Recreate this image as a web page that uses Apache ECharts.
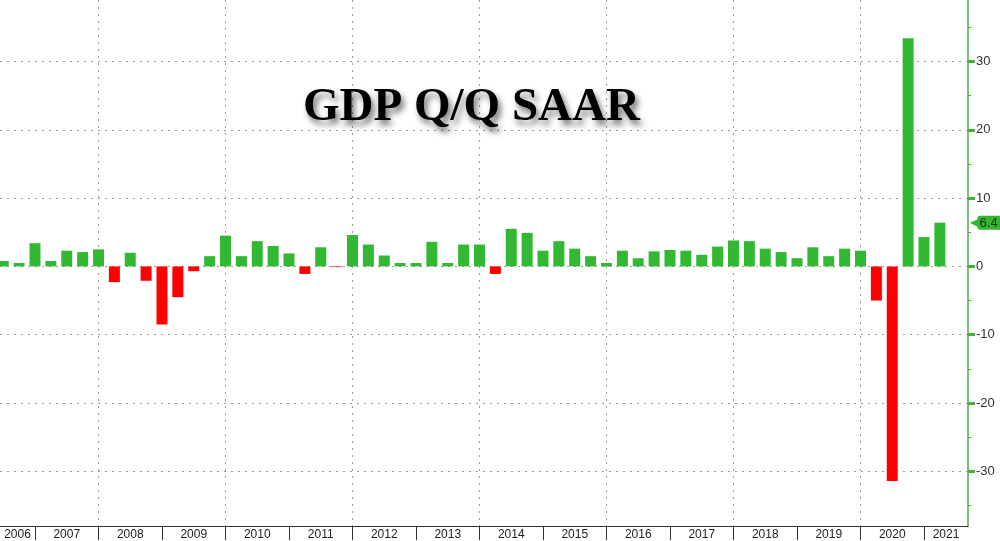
<!DOCTYPE html>
<html><head><meta charset="utf-8">
<script src="https://cdn.jsdelivr.net/npm/echarts@6/dist/echarts.min.js"></script>
<style>html,body{margin:0;padding:0;background:#fff}#c{width:1000px;height:541px}</style>
</head><body><div id="c"></div>
<script>
// ---- data ----
const periods = [
  '2006Q2','2006Q3','2006Q4',
  '2007Q1','2007Q2','2007Q3','2007Q4',
  '2008Q1','2008Q2','2008Q3','2008Q4',
  '2009Q1','2009Q2','2009Q3','2009Q4',
  '2010Q1','2010Q2','2010Q3','2010Q4',
  '2011Q1','2011Q2','2011Q3','2011Q4',
  '2012Q1','2012Q2','2012Q3','2012Q4',
  '2013Q1','2013Q2','2013Q3','2013Q4',
  '2014Q1','2014Q2','2014Q3','2014Q4',
  '2015Q1','2015Q2','2015Q3','2015Q4',
  '2016Q1','2016Q2','2016Q3','2016Q4',
  '2017Q1','2017Q2','2017Q3','2017Q4',
  '2018Q1','2018Q2','2018Q3','2018Q4',
  '2019Q1','2019Q2','2019Q3','2019Q4',
  '2020Q1','2020Q2','2020Q3','2020Q4',
  '2021Q1'
];
const gdp = [
  0.8, 0.5, 3.4,
  0.8, 2.3, 2.1, 2.5,
  -2.3, 2.0, -2.1, -8.5,
  -4.5, -0.7, 1.5, 4.5,
  1.5, 3.7, 3.0, 1.9,
  -1.1, 2.8, -0.1, 4.6,
  3.2, 1.6, 0.5, 0.5,
  3.6, 0.5, 3.2, 3.2,
  -1.1, 5.5, 4.9, 2.3,
  3.7, 2.6, 1.5, 0.5,
  2.3, 1.2, 2.2, 2.4,
  2.3, 1.7, 2.9, 3.8,
  3.7, 2.6, 2.1, 1.2,
  2.8, 1.5, 2.6, 2.3,
  -5.0, -31.4, 33.4, 4.3,
  6.4
];
const yearLabels = ['2006','2007','2008','2009','2010','2011','2012','2013','2014','2015','2016','2017','2018','2019','2020','2021'];
const gridYears = ['2008','2010','2012','2014','2016','2018','2020'];
const yMajorTicks = [-30,-20,-10,0,10,20,30];
const yMinorTicks = [-35,-25,-15,-5,5,15,25,35];
const titleText = 'GDP Q/Q SAAR';

// ---- axis extents ----
const X_MIN = 2006.449, X_MAX = 2021.693;
const Y_MIN = -38, Y_MAX = 39;
const GREEN = '#33b833', RED = '#ff0000', AXIS_GREEN = '#46ad46';

function periodToX(p){ return (+p.slice(0,4)) + (+p.slice(5))/4; }
const barData = periods.map((p,i)=>[periodToX(p), gdp[i]]);
const yearBounds = yearLabels.slice(1).map(y=>+y);
const yearCenters = yearLabels.map(y=>{ const a=Math.max(+y,X_MIN), b=Math.min(+y+1,X_MAX); return (a+b)/2; });
const lastVal = gdp[gdp.length-1];

const chart = echarts.init(document.getElementById('c'), null, {renderer:'canvas'});
chart.setOption({
  animation:false,
  backgroundColor:'#ffffff',
  title:{
    text:titleText, left:303, top:84, padding:0,
    textStyle:{fontFamily:'Liberation Serif', fontWeight:'bold', fontSize:47, color:'#000',
      textShadowColor:'rgba(0,0,0,0.55)', textShadowBlur:6, textShadowOffsetX:3, textShadowOffsetY:5}
  },
  grid:{left:0, right:32, top:0, bottom:14, containLabel:false},
  xAxis:[
    {type:'value', min:X_MIN, max:X_MAX, position:'bottom',
     axisLine:{show:true, onZero:false, lineStyle:{color:'#333', width:1}},
     axisTick:{show:true, inside:false, length:14, customValues:yearBounds, lineStyle:{color:'#333', width:1}},
     axisLabel:{show:true, customValues:yearCenters, margin:3, fontFamily:'Liberation Sans', fontSize:12, color:'#222',
       formatter:(v)=>String(Math.floor(v))},
     splitLine:{show:false}},
    {type:'value', min:X_MIN, max:X_MAX, position:'bottom',
     axisLine:{show:false}, axisLabel:{show:false},
     axisTick:{show:false, customValues:gridYears.map(Number)},
     splitLine:{show:true, lineStyle:{color:'#9a9a9a', type:[2,5], width:1}}}
  ],
  yAxis:[
    {type:'value', position:'right', min:Y_MIN, max:Y_MAX,
     axisLine:{show:true, onZero:false, lineStyle:{color:AXIS_GREEN, width:1.5}},
     axisTick:{show:true, inside:false, length:7, customValues:yMajorTicks, lineStyle:{color:AXIS_GREEN, width:3}},
     axisLabel:{show:true, customValues:yMajorTicks, margin:8, fontFamily:'Liberation Sans', fontSize:13, color:'#333'},
     splitLine:{show:true, lineStyle:{color:'#9a9a9a', type:[2,5], width:1}}},
    {type:'value', position:'right', min:Y_MIN, max:Y_MAX,
     axisLine:{show:false}, axisLabel:{show:false}, splitLine:{show:false},
     axisTick:{show:true, inside:false, length:3, customValues:yMinorTicks, lineStyle:{color:AXIS_GREEN, width:1}}}
  ],
  series:[{
    type:'bar', xAxisIndex:0, yAxisIndex:0, barWidth:11,
    data:barData,
    itemStyle:{color:(p)=> p.value[1] >= 0 ? GREEN : RED},
    markLine:{
      silent:true, symbol:'none',
      lineStyle:{color:'rgba(0,0,0,0)', width:0, type:'solid'},
      emphasis:{disabled:true},
      data:[{yAxis:lastVal}],
      label:{show:true, position:'end', distance:2,
        formatter:(p)=>'{a|◀}{b|'+p.value+'}',
        rich:{
          a:{color:GREEN, fontSize:15, fontFamily:'DejaVu Sans', padding:[0,-4,0,0], lineHeight:15},
          b:{color:'#1b2e1b', backgroundColor:GREEN, fontSize:13, fontFamily:'Liberation Sans', padding:[1,10,0,2], borderRadius:2, lineHeight:14}
        }}
    }
  }]
});
</script></body></html>
